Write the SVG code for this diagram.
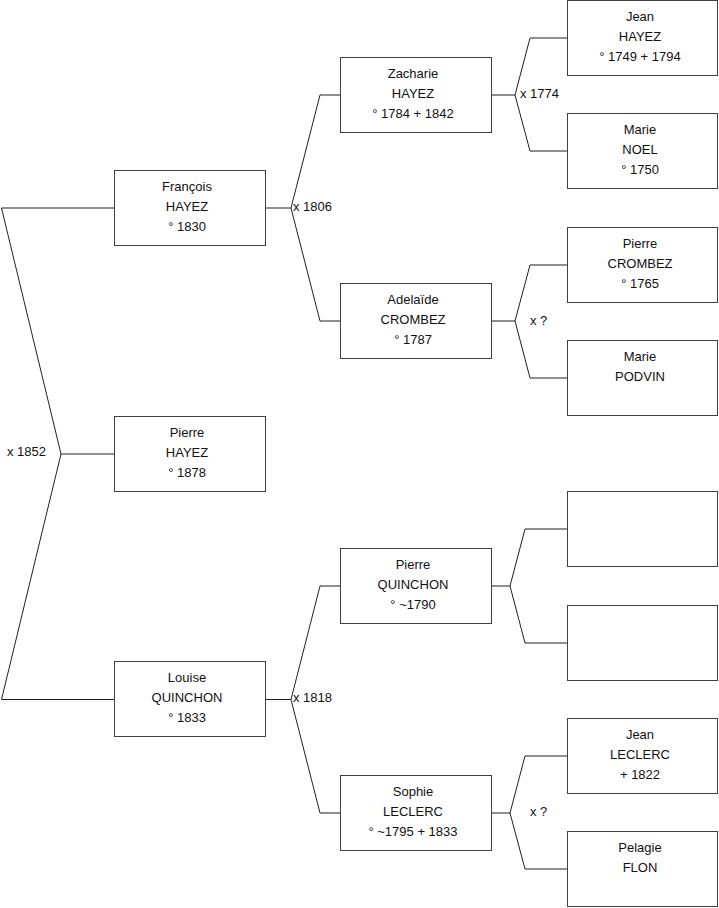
<svg xmlns="http://www.w3.org/2000/svg" width="719" height="908" viewBox="0 0 719 908">
<style>
.box{fill:#fff;stroke:#404040;stroke-width:1}
.ln{fill:none;stroke:#202020;stroke-width:1}
text{font-family:"Liberation Sans",Arial,sans-serif;font-size:13px;fill:#111}
.c{text-anchor:middle}
</style>
<rect width="719" height="908" fill="#fff"/>
<g id="connectors">
<polyline class="ln" points="114.5,208 1.5,208 61,454 1.5,699.5 114.5,699.5"/>
<line class="ln" x1="61" y1="454" x2="114.5" y2="454"/>
<polyline class="ln" points="340.5,95 320,95 291,208 320,321 340.5,321"/>
<line class="ln" x1="265.5" y1="208" x2="291" y2="208"/>
<polyline class="ln" points="340.5,586 320,586 291,699.5 320,813 340.5,813"/>
<line class="ln" x1="265.5" y1="699.5" x2="291" y2="699.5"/>
<polyline class="ln" points="567.5,38 530,38 515,95 530,151 567.5,151"/>
<line class="ln" x1="491.5" y1="95" x2="515" y2="95"/>
<polyline class="ln" points="567.5,265 530,265 515,321 530,378 567.5,378"/>
<line class="ln" x1="491.5" y1="321" x2="515" y2="321"/>
<polyline class="ln" points="567.5,529 525,529 510,586 525,643 567.5,643"/>
<line class="ln" x1="491.5" y1="586" x2="510" y2="586"/>
<polyline class="ln" points="567.5,756 525,756 510,813 525,869 567.5,869"/>
<line class="ln" x1="491.5" y1="813" x2="510" y2="813"/>
<text x="7" y="456">x 1852</text>
<text x="293" y="211">x 1806</text>
<text x="293" y="702">x 1818</text>
<text x="520" y="98">x 1774</text>
<text x="530" y="325">x ?</text>
<text x="530" y="816">x ?</text>
</g>
<g id="francois"><rect class="box" x="114.5" y="170.5" width="151" height="75"/>
<text class="c" x="187" y="191">François</text><text class="c" x="187" y="211">HAYEZ</text><text class="c" x="187" y="231">° 1830</text></g>
<g id="pierre-hayez"><rect class="box" x="114.5" y="416.5" width="151" height="75"/>
<text class="c" x="187" y="437">Pierre</text><text class="c" x="187" y="457">HAYEZ</text><text class="c" x="187" y="477">° 1878</text></g>
<g id="louise"><rect class="box" x="114.5" y="661.5" width="151" height="75"/>
<text class="c" x="187" y="682">Louise</text><text class="c" x="187" y="702">QUINCHON</text><text class="c" x="187" y="722">° 1833</text></g>
<g id="zacharie"><rect class="box" x="340.5" y="57.5" width="151" height="75"/>
<text class="c" x="413" y="78">Zacharie</text><text class="c" x="413" y="98">HAYEZ</text><text class="c" x="413" y="118">° 1784 + 1842</text></g>
<g id="adelaide"><rect class="box" x="340.5" y="283.5" width="151" height="75"/>
<text class="c" x="413" y="304">Adelaïde</text><text class="c" x="413" y="324">CROMBEZ</text><text class="c" x="413" y="344">° 1787</text></g>
<g id="pierre-quinchon"><rect class="box" x="340.5" y="548.5" width="151" height="75"/>
<text class="c" x="413" y="569">Pierre</text><text class="c" x="413" y="589">QUINCHON</text><text class="c" x="413" y="609">° ~1790</text></g>
<g id="sophie"><rect class="box" x="340.5" y="775.5" width="151" height="75"/>
<text class="c" x="413" y="796">Sophie</text><text class="c" x="413" y="816">LECLERC</text><text class="c" x="413" y="836">° ~1795 + 1833</text></g>
<g id="jean-hayez"><rect class="box" x="567.5" y="0.5" width="150" height="75"/>
<text class="c" x="640" y="21">Jean</text><text class="c" x="640" y="41">HAYEZ</text><text class="c" x="640" y="61">° 1749 + 1794</text></g>
<g id="marie-noel"><rect class="box" x="567.5" y="113.5" width="150" height="75"/>
<text class="c" x="640" y="134">Marie</text><text class="c" x="640" y="154">NOEL</text><text class="c" x="640" y="174">° 1750</text></g>
<g id="pierre-crombez"><rect class="box" x="567.5" y="227.5" width="150" height="75"/>
<text class="c" x="640" y="248">Pierre</text><text class="c" x="640" y="268">CROMBEZ</text><text class="c" x="640" y="288">° 1765</text></g>
<g id="marie-podvin"><rect class="box" x="567.5" y="340.5" width="150" height="75"/>
<text class="c" x="640" y="361">Marie</text><text class="c" x="640" y="381">PODVIN</text></g>
<g id="empty-1"><rect class="box" x="567.5" y="491.5" width="150" height="75"/></g>
<g id="empty-2"><rect class="box" x="567.5" y="605.5" width="150" height="75"/></g>
<g id="jean-leclerc"><rect class="box" x="567.5" y="718.5" width="150" height="75"/>
<text class="c" x="640" y="739">Jean</text><text class="c" x="640" y="759">LECLERC</text><text class="c" x="640" y="779">+ 1822</text></g>
<g id="pelagie-flon"><rect class="box" x="567.5" y="831.5" width="150" height="75"/>
<text class="c" x="640" y="852">Pelagie</text><text class="c" x="640" y="872">FLON</text></g>
</svg>
